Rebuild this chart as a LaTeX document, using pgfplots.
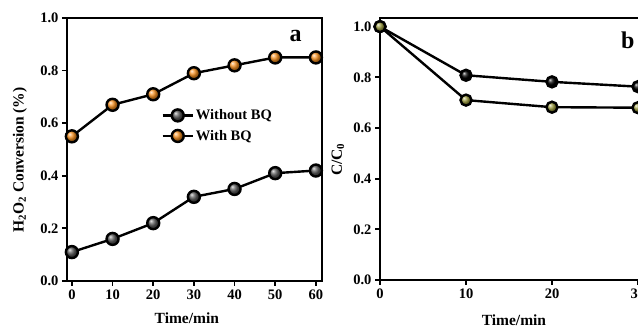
\documentclass[border=0pt]{standalone}
\usepackage{fontspec}
\setmainfont{Liberation Serif}
\usepackage{pgfplots}
\pgfplotsset{compat=1.18}
\definecolor{ballgray}{HTML}{5A5A5A}
\definecolor{ballorange}{HTML}{F7901E}
\definecolor{ballolive}{HTML}{9A9A3C}
\begin{document}
\begin{tikzpicture}
\path[use as bounding box] (0pt,0pt) rectangle (638pt,329pt);
\pgfplotsset{
 common/.style={
  scale only axis,
  axis line style={line width=2pt},
  tick align=outside, xtick pos=bottom, ytick pos=left,
  major tick length=5pt, minor tick num=0,
  every tick/.style={line width=1.8pt, black},
  ymin=0,
  ytick={0,0.2,0.4,0.6,0.8,1.0},
  yticklabel style={/pgf/number format/.cd, fixed, fixed zerofill, precision=1},
  /pgf/number format/assume math mode=true,
  tick label style={font=\fontsize{14.5}{16}\selectfont\bfseries},
  clip=false,
 }
}
\begin{axis}[common,
  at={(67pt,48pt)}, anchor=south west,
  width=255pt, height=263pt,
  xmin=-1.2, xmax=61.5, ymax=1.0,
  xtick={0,10,20,30,40,50,60},
  xlabel={Time/min},
  every axis x label/.style={at={(rel axis cs:0.47,0)}, anchor=center, yshift=-37pt, font=\fontsize{15.5}{18}\selectfont\bfseries},
  ylabel={H\textsubscript{2}O\textsubscript{2} Conversion (\%)},
  every axis y label/.style={at={(rel axis cs:0,0.46)}, xshift=-47pt, rotate=90, anchor=center, font=\fontsize{15.5}{18}\selectfont\bfseries},
  legend style={draw=none, fill=none, at={(0.37,0.66)}, anchor=north west,
    font=\fontsize{14.5}{16}\selectfont\bfseries, row sep=5pt,
    inner sep=0pt},
  legend cell align=left,
  legend image code/.code={\draw[mark repeat=2,mark phase=2] plot coordinates {(0pt,0pt) (15pt,0pt) (30pt,0pt)};},
]
\addplot[line width=2.4pt, black, mark=ball, mark size=6pt, mark options={ball color=ballgray}]
 coordinates {(0,0.11) (10,0.16) (20,0.22) (30,0.32) (40,0.35) (50,0.41) (60,0.42)};
\addlegendentry{Without BQ}
\addplot[line width=2.4pt, black, mark=ball, mark size=6pt, mark options={ball color=ballorange}]
 coordinates {(0,0.55) (10,0.67) (20,0.71) (30,0.79) (40,0.82) (50,0.85) (60,0.85)};
\addlegendentry{With BQ}
\node[font=\fontsize{24}{26}\selectfont\bfseries] at (axis cs:55,0.93) {a};
\end{axis}
\begin{axis}[common,
  at={(380pt,49pt)}, anchor=south west,
  width=301pt, height=262pt,
  xmin=0, xmax=35, ymax=1.034,
  xtick={0,10,20,30},
  xlabel={Time/min},
  every axis x label/.style={at={(rel axis cs:0.445,0)}, anchor=center, yshift=-40pt, font=\fontsize{15.5}{18}\selectfont\bfseries},
  ylabel={C/C\textsubscript{0}},
  every axis y label/.style={at={(rel axis cs:0,0.46)}, xshift=-42pt, rotate=90, anchor=center, font=\fontsize{15.5}{18}\selectfont\bfseries},
]
\addplot[line width=2.4pt, black, mark=ball, mark size=5.5pt, mark options={ball color=black}]
 coordinates {(0,1.0) (10,0.808) (20,0.782) (30,0.763)};
\addplot[line width=2.4pt, black, mark=ball, mark size=5.5pt, mark options={ball color=ballolive}]
 coordinates {(0,1.0) (10,0.71) (20,0.682) (30,0.68)};
\node[font=\fontsize{24}{26}\selectfont\bfseries] at (axis cs:28.8,0.947) {b};
\end{axis}
\end{tikzpicture}
\end{document}
